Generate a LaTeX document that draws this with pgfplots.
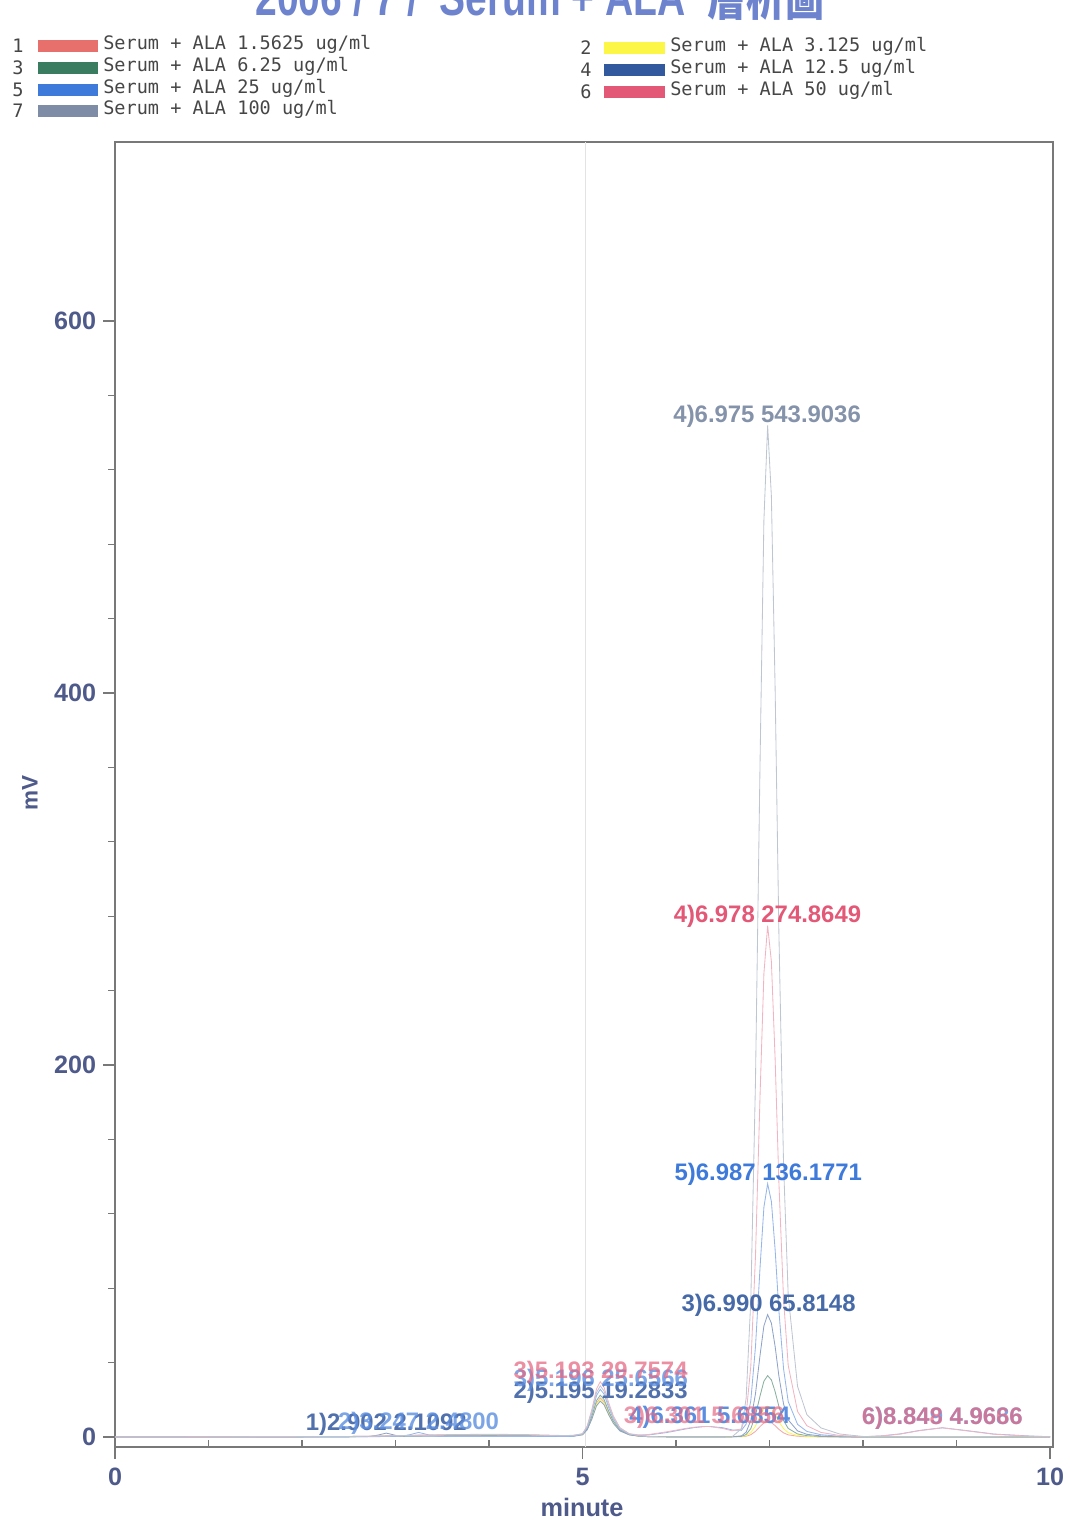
\documentclass[border=0pt]{standalone}
\usepackage{pgfplots}
\pgfplotsset{compat=1.18}
\usepackage{pgfplotstable}
\usepackage{fontspec}
\setmainfont{Liberation Sans}
\newfontfamily\legendfont{DejaVu Sans Mono}
\newfontfamily\cjk{Noto Sans CJK TC}

\definecolor{c1}{RGB}{232,112,108}
\definecolor{c2}{RGB}{252,246,70}
\definecolor{c3}{RGB}{58,124,96}
\definecolor{c4}{RGB}{50,88,158}
\definecolor{c5}{RGB}{62,122,218}
\definecolor{c6}{RGB}{226,88,118}
\definecolor{c7}{RGB}{126,140,166}
\definecolor{tickc}{RGB}{78,90,138}
\definecolor{titlec}{RGB}{60,90,190}
\definecolor{legtext}{RGB}{70,70,70}
\definecolor{framec}{RGB}{120,120,120}

\tikzset{lab/.style={anchor=base, yshift=0.75mm, inner sep=0, font=\fontsize{17}{18}\selectfont\bfseries}}

% Chromatograms of serum spiked with ALA (retention time in min, signal in mV)
\pgfplotstableread{
x      s1     s2     s3     s4       s5       s6       s7
0.00   0      0      0      0        0        0        0
0.50   0      0      0      0        0        0        0
1.00   0.1    0      0      0        0        0.1      0
1.50   0.2    0.1    0      0        0        0.2      0.1
2.00   0.2    0.1    0.1    0        0        0.2      0.2
2.50   0.3    0.2    0.2    0.1      0.1      0.3      0.3
2.70   0.4    0.3    0.3    0.2      0.2      0.4      0.4
2.80   0.5    0.4    0.3    0.9      0.2      0.5      0.5
2.902  0.6    0.5    0.4    2.1092   0.3      0.6      0.6
3.00   0.7    0.6    0.5    0.9      0.35     0.7      0.7
3.05   0.7    0.6    0.5    0.6      0.5      0.7      0.8
3.10   0.8    0.6    0.5    0.45     0.8      0.8      0.8
3.15   0.8    0.7    0.6    0.4      1.2      0.8      0.9
3.247  0.9    0.7    0.6    0.4      2.48     0.9      1.0
3.35   0.9    0.8    0.7    0.4      1.2      0.9      1.1
3.45   1.0    0.8    0.7    0.4      0.5      1.0      1.2
3.60   1.0    0.9    0.8    0.4      0.4      1.1      1.3
4.00   1.1    1.0    0.9    0.4      0.4      1.2      1.5
4.40   1.0    0.9    0.8    0.4      0.4      1.1      1.3
4.80   0.6    0.5    0.5    0.3      0.3      0.7      0.8
4.90   0.7    0.6    0.6    0.4      0.4      0.85     0.9
5.00   1.3    1.2    1.4    1.2      1.6      1.8      1.7
5.05   4.2    4.06   4.5    3.86     5.13     5.95     5.5
5.10   10.5   10.15  11.25  9.64     12.83    14.88    13.75
5.15   18.27  17.66  19.58  16.78    22.32    25.89    23.93
5.19   21.0   20.3   22.5   19.2833  25.6566  29.7574  27.5
5.23   18.9   18.27  20.25  17.35    23.09    26.78    24.75
5.28   13.02  12.59  13.95  11.96    15.91    18.45    17.05
5.33   7.98   7.71   8.55   7.33     9.75     11.31    10.45
5.40   3.57   3.45   3.83   3.28     4.36     5.06     4.68
5.50   1.26   1.22   1.35   1.16     1.54     1.79     1.65
5.60   0.53   0.51   0.56   0.48     0.94     1.14     0.69
5.70   0.21   0.20   0.23   0.19     1.06     1.30     0.28
5.90   0.1    0.1    0.1    0.1      2.4      2.8      0.1
6.10   0.1    0.1    0.1    0.1      4.3      4.6      0.1
6.20   0.1    0.1    0.1    0.1      5.1      5.3      0.1
6.301  0.1    0.1    0.1    0.1      5.6      5.6856   0.1
6.361  0.1    0.1    0.1    0.1      5.6854   5.6      0.1
6.50   0.1    0.1    0.1    0.1      5.0      4.6      0.1
6.60   0.1    0.1    0.1    0.11     3.81     3.33     0.15
6.70   0.17   0.23   0.36   0.63     3.59     4.40     4.45
6.75   0.42   0.73   1.35   2.60     6.97     12.04    20.77
6.80   1.22   2.34   4.56   8.99     19.58    38.11    73.53
6.85   3.02   5.94   11.72  23.27    48.63    97.35    191.55
6.90   5.69   11.29  22.34  44.46    92.18    185.56   366.69
6.94   7.62   15.14  30.00  59.73    123.58   249.13   492.88
6.98   8.30   16.60  33.00  65.8148  136.1771 274.8649 543.9036
7.02   7.72   15.44  30.69  61.21    126.64   255.62   505.83
7.06   6.14   12.28  24.42  48.70    100.77   203.40   402.49
7.10   4.15   8.30   16.50  32.91    68.09    137.43   271.95
7.15   2.24   4.48   8.91   17.77    36.77    74.21    146.85
7.20   1.16   2.32   4.62   9.21     19.06    38.48    76.15
7.30   0.42   0.83   1.65   3.29     6.81     13.74    27.20
7.40   0.18   0.37   0.73   1.45     3.00     6.05     11.97
7.55   0.07   0.15   0.30   0.59     1.23     2.47     4.90
7.75   0.02   0.05   0.10   0.20     0.41     0.82     1.63
8.00   0      0      0      0        0.1      0.2      0.3
8.20   0      0      0      0        0.6      0.6      0.3
8.40   0      0      0      0        1.7      1.6      0.3
8.60   0      0      0      0        3.5      3.4      0.3
8.848  0      0      0      0        4.9686   4.9666   0.3
9.10   0      0      0      0        3.5      3.4      0.3
9.40   0      0      0      0        1.6      1.5      0.2
9.80   0      0      0      0        0.5      0.4      0.1
10.00  0      0      0      0        0.2      0.2      0.1
}\chrom

\begin{document}
\begin{tikzpicture}
\useasboundingbox (0,0) rectangle (267.25mm,-382mm);

% title (its upper part lies above the page edge)
\node[overlay, anchor=base, inner sep=0, font=\fontsize{37}{40}\selectfont\bfseries, text=titlec!75!white]
  at (135mm,-4mm) {\scalebox{0.75}[1]{2006 / 7 /\ \ Serum + ALA\ \ {\cjk 層析圖}}};

% legend
\tikzset{legnum/.style={inner sep=0, font=\fontsize{13.2}{14}\legendfont, text=legtext},
         legtxt/.style={anchor=mid west, inner sep=0, font=\fontsize{13.2}{14}\legendfont, text=legtext}}
\foreach \n/\yy/\c/\t in {1/11.5/c1/1.5625, 3/17/c3/6.25, 5/22.5/c5/25, 7/27.75/c7/100}{
  \node[legnum] at (4.5mm,-\yy mm) {\n};
  \fill[\c] (9.5mm,-\yy mm+1.6mm) rectangle (24.5mm,-\yy mm-1.6mm);
  \node[legtxt] at (25.75mm,-\yy mm) {Serum + ALA \t\ ug/ml};
}
\foreach \n/\yy/\c/\t in {2/12/c2/3.125, 4/17.5/c4/12.5, 6/23/c6/50}{
  \node[legnum] at (146.5mm,-\yy mm) {\n};
  \fill[\c] (151mm,-\yy mm+1.6mm) rectangle (166.25mm,-\yy mm-1.6mm);
  \node[legtxt] at (167.5mm,-\yy mm) {Serum + ALA \t\ ug/ml};
}

\begin{axis}[
  at={(28.75mm,-361.75mm)}, anchor=south west,
  scale only axis, width=234.5mm, height=326.25mm,
  xmin=0, xmax=10.032, ymin=-5.376, ymax=696.24,
  xtick={0,5,10}, minor x tick num=4,
  ytick={0,200,400,600}, minor y tick num=4,
  xtick pos=bottom, ytick pos=left,
  tick align=outside,
  major tick length=3mm, minor tick length=1.75mm,
  every minor x tick/.append style={yshift=1.75mm},
  tick style={framec, line width=0.9pt},
  axis line style={draw=framec, line width=1.1pt},
  /pgf/number format/assume math mode=true,
  ticklabel style={font=\fontsize{17.9}{19}\selectfont\bfseries, text=tickc},
  xticklabel style={yshift=-1mm},
  yticklabel style={xshift=-0.5mm},
]
\addplot[gray!22, line width=0.5pt] coordinates {(5.03,-5.376) (5.03,696.24)};
\addplot[c1!60!white, line width=0.6pt] table[x=x,y=s1]{\chrom};
\addplot[c2!90!white, line width=0.6pt] table[x=x,y=s2]{\chrom};
\addplot[c3!60!white, line width=0.6pt] table[x=x,y=s3]{\chrom};
\addplot[c4!55!white, line width=0.6pt] table[x=x,y=s4]{\chrom};
\addplot[c5!55!white, line width=0.6pt] table[x=x,y=s5]{\chrom};
\addplot[c6!45!white, line width=0.6pt] table[x=x,y=s6]{\chrom};
\addplot[c7!50!white, line width=0.6pt] table[x=x,y=s7]{\chrom};

% peak annotations
\node[lab, text=c7!95!white] at (axis cs:6.975,543.9036) {4)6.975 543.9036};
\node[lab, text=c6] at (axis cs:6.978,274.8649) {4)6.978 274.8649};
\node[lab, text=c5] at (axis cs:6.987,136.1771) {5)6.987 136.1771};
\node[lab, text=c4!90!white] at (axis cs:6.990,65.8148) {3)6.990 65.8148};
\node[lab, text=c4!85!white] at (axis cs:5.195,19.2833) {2)5.195 19.2833};
\node[lab, text=c5!85!white, opacity=0.8] at (axis cs:5.196,25.6566) {3)5.196 25.6566};
\node[lab, text=c6!90!white, opacity=0.75] at (axis cs:5.193,29.7574) {3)5.193 29.7574};
\node[lab, text=c4!85!white] at (axis cs:2.902,2.1092) {1)2.902 2.1092};
\node[lab, text=c5!85!white, opacity=0.8] at (axis cs:3.247,2.4800) {2)3.247 2.4800};
\node[lab, text=c5!85!white] at (axis cs:6.361,5.6854) {4)6.361 5.6854};
\node[lab, text=c6!90!white, opacity=0.7] at (axis cs:6.301,5.6856) {3)6.301 5.6856};
\node[lab, text=c5!85!white, opacity=0.8] at (axis cs:8.849,4.9686) {6)8.849 4.9686};
\node[lab, text=c6!90!white, opacity=0.75] at (axis cs:8.848,4.9666) {6)8.848 4.9666};
\end{axis}

% axis titles
\node[rotate=90, font=\fontsize{16}{18}\selectfont\bfseries, text=tickc] at (7.5mm,-198.25mm) {mV};
\node[font=\fontsize{18}{20}\selectfont\bfseries, text=tickc] at (145.5mm,-376.75mm) {minute};
\end{tikzpicture}
\end{document}
